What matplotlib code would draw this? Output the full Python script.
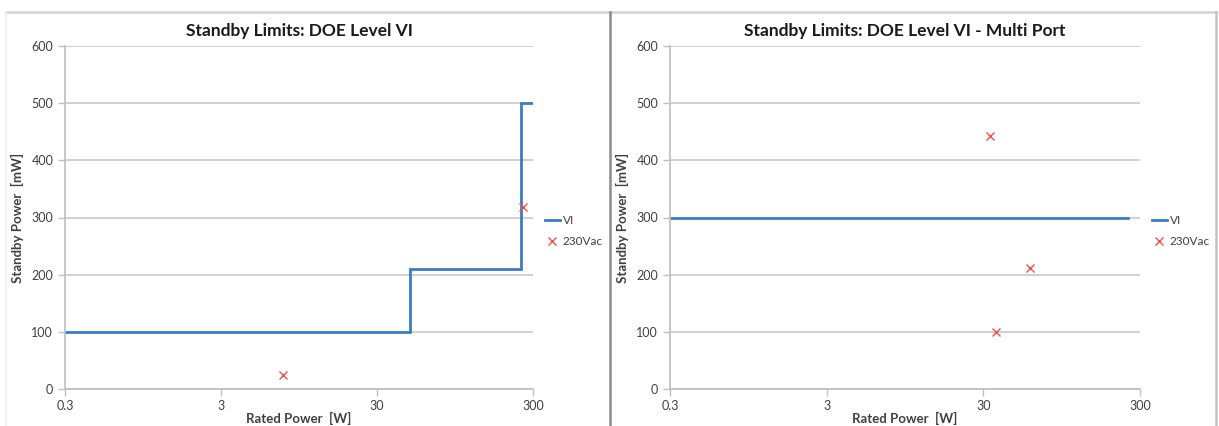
import matplotlib
matplotlib.use("Agg")
import matplotlib.pyplot as plt
from matplotlib.lines import Line2D

plt.rcParams["font.family"] = ["Lato", "DejaVu Sans"]

# Level VI standby limit steps (rated power breakpoints in W, limit in mW)
limit_power_w = [0.3, 49, 49, 250, 250, 300]
limit_standby_mw = [100, 100, 210, 210, 500, 500]

# Measured single-port units at 230 Vac
single_power_w = [7.5, 257]
single_standby_mw = [25, 318]

# Multi-port limit and measured units at 230 Vac
multi_limit_power_w = [0.3, 250]
multi_limit_standby_mw = [300, 300]
multi_power_w = [33, 60, 36]
multi_standby_mw = [443, 212, 100]

titles = ["Standby Limits: DOE Level VI", "Standby Limits: DOE Level VI - Multi Port"]
x_ticks = [0.3, 3, 30, 300]
x_tick_labels = ["0.3", "3", "30", "300"]
y_ticks = [0, 100, 200, 300, 400, 500, 600]

LINE_BLUE = "#3a7dc4"
MARK_RED = "#f0504f"
GRID = "#c8c8c8"
TEXT = "#404040"

W, H = 1219, 426
fig = plt.figure(figsize=(W / 100, H / 100), dpi=100)
fig.patch.set_facecolor("white")


def px_rect(x0, x1, ytop, ybot):
    return [x0 / W, 1 - ybot / H, (x1 - x0) / W, (ybot - ytop) / H]


ax_left = fig.add_axes(px_rect(65, 533, 46, 389))
ax_right = fig.add_axes(px_rect(670, 1140, 46, 389))

panels = [
    (ax_left, limit_power_w, limit_standby_mw, single_power_w, single_standby_mw, titles[0]),
    (ax_right, multi_limit_power_w, multi_limit_standby_mw, multi_power_w, multi_standby_mw, titles[1]),
]

for ax, lx, ly, px, py, title in panels:
    ax.set_xscale("log")
    ax.set_xlim(0.3, 300)
    ax.set_ylim(0, 600)
    ax.yaxis.grid(True, color=GRID, linewidth=1.2)
    ax.set_axisbelow(True)
    ax.plot(lx, ly, color=LINE_BLUE, linewidth=2.0, label="VI", solid_joinstyle="miter")
    ax.plot(px, py, linestyle="none", marker="x", color=MARK_RED, markersize=6,
            markeredgewidth=1.0, label="230Vac")
    ax.set_xticks(x_ticks)
    ax.set_xticklabels(x_tick_labels)
    ax.xaxis.set_minor_locator(matplotlib.ticker.NullLocator())
    ax.set_yticks(y_ticks)
    for side in ("top", "right"):
        ax.spines[side].set_visible(False)
    for side in ("left", "bottom"):
        ax.spines[side].set_color("#bfbfbf")
        ax.spines[side].set_linewidth(1.2)
    ax.tick_params(axis="both", colors="#bfbfbf", labelcolor=TEXT, labelsize=9,
                   length=5, width=1.0, direction="out")
    ax.tick_params(axis="x", pad=3)
    ax.set_title(title, fontsize=12.5, fontweight="bold", color="#1a1a1a", pad=7)
    ax.set_ylabel("Standby Power  [mW]", fontsize=9.5, fontweight="bold", color=TEXT,
                  labelpad=5)
    ax.set_xlabel("Rated Power  [W]", fontsize=9.5, fontweight="bold", color=TEXT,
                  labelpad=0)
    ax.legend(loc="center left", bbox_to_anchor=(1.0, 0.46), frameon=False,
              fontsize=8.5, labelcolor=TEXT, handlelength=1.3, handletextpad=0.2,
              borderaxespad=0.6, labelspacing=0.8)

# Panel frames
frame_light = "#d4d4d4"
fig.add_artist(Line2D([6 / W, 1216 / W], [1 - 12 / H, 1 - 12 / H], color=frame_light,
                      linewidth=1.8, transform=fig.transFigure))
fig.add_artist(Line2D([6 / W, 6 / W], [0, 1 - 12 / H], color="#ebebeb",
                      linewidth=1.2, transform=fig.transFigure))
fig.add_artist(Line2D([1216 / W, 1216 / W], [0, 1 - 12 / H], color="#c4c4c4",
                      linewidth=1.8, transform=fig.transFigure))
fig.add_artist(Line2D([610 / W, 610 / W], [0, 1 - 12 / H], color="#8a8a8a",
                      linewidth=1.8, transform=fig.transFigure))

fig.savefig("out.png", dpi=100, facecolor="white")
